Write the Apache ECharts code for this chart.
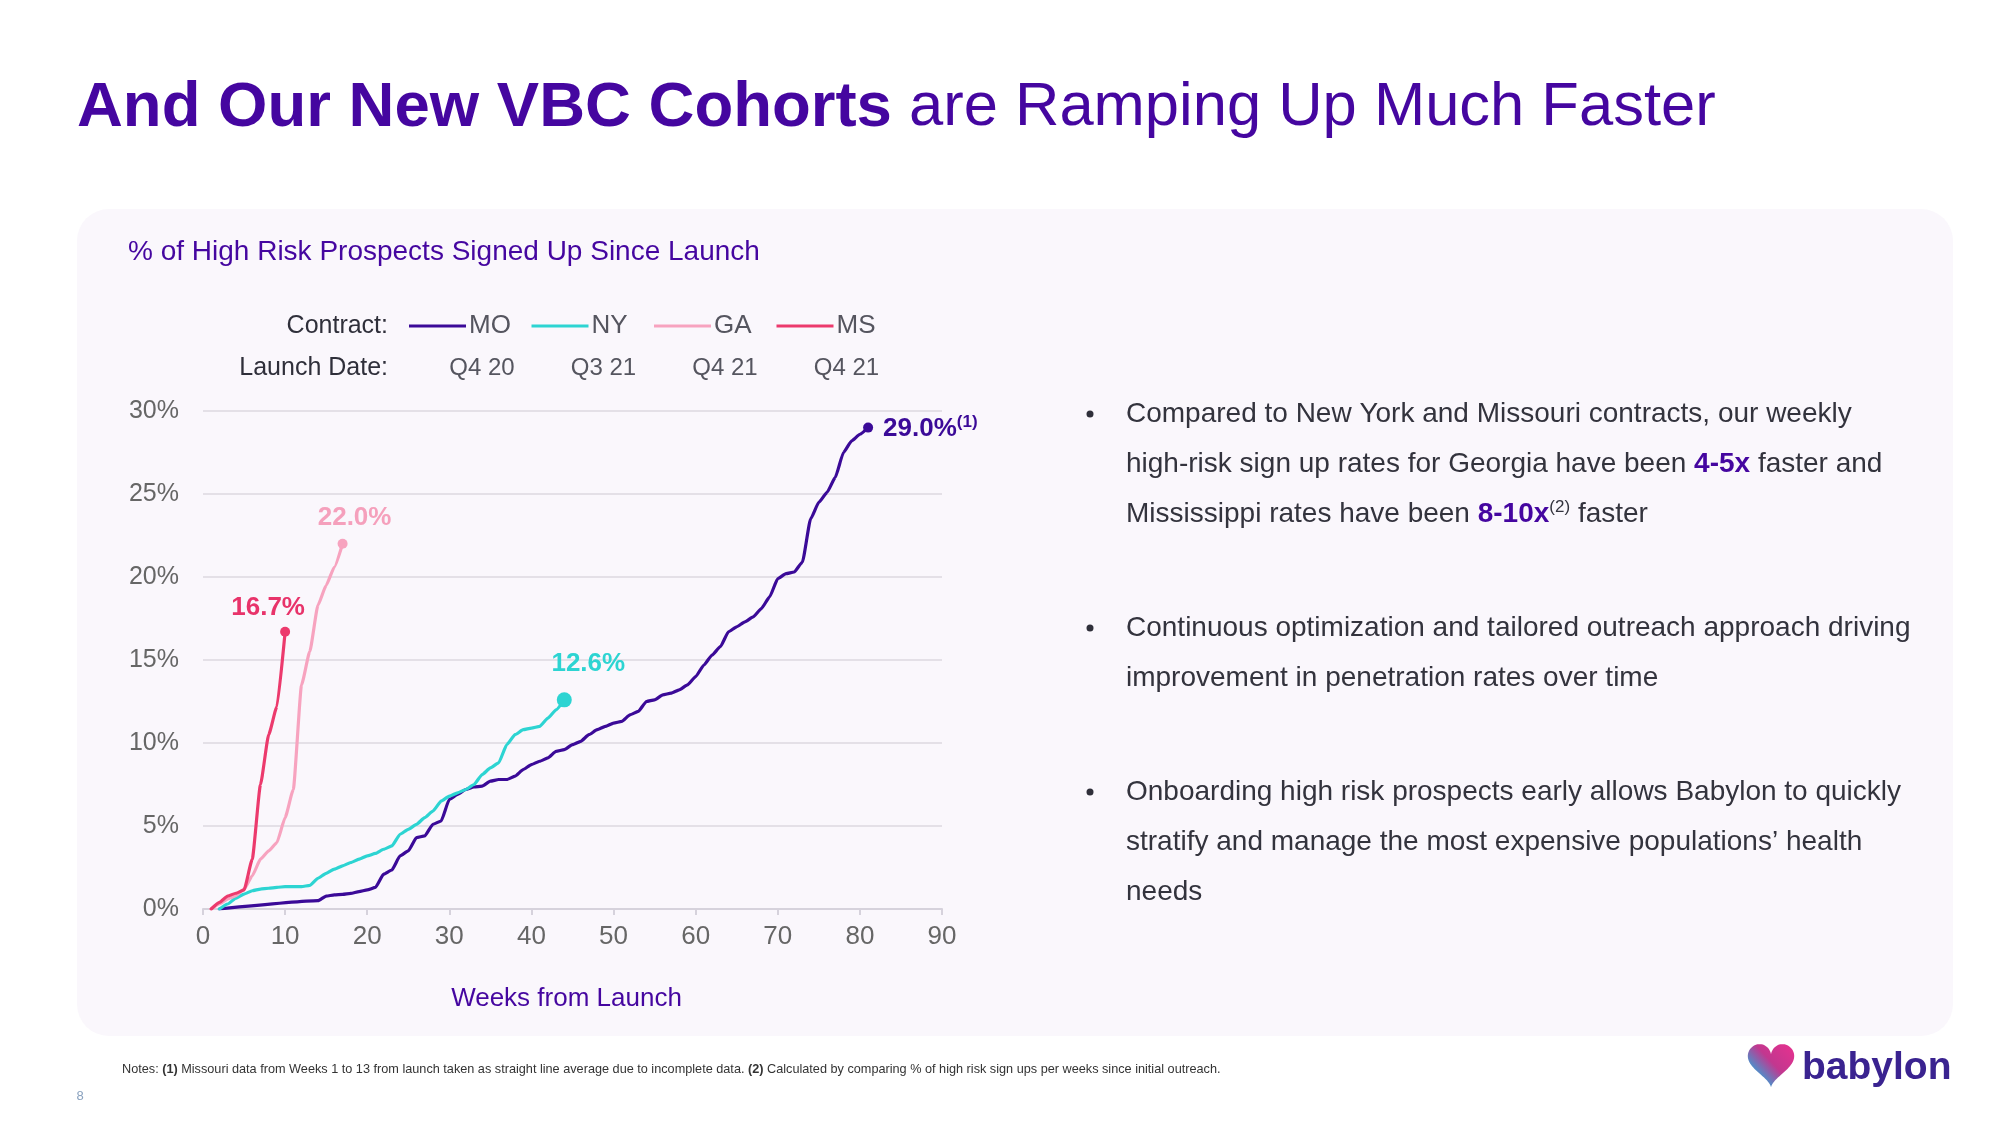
<!DOCTYPE html>
<html><head><meta charset="utf-8">
<script src="https://cdn.jsdelivr.net/npm/echarts@6/dist/echarts.min.js"></script>
<style>html,body{margin:0;padding:0;background:#fff;}#c{width:2000px;height:1125px;}</style>
</head><body><div id="c"></div>
<script>
// ---------- data ----------
const seriesNames = ['MO', 'NY', 'GA', 'MS'];
const launchDates = ['Q4 20', 'Q3 21', 'Q4 21', 'Q4 21'];
const xTicks = [0, 10, 20, 30, 40, 50, 60, 70, 80, 90];
const yTicks = [0, 5, 10, 15, 20, 25, 30];

const weeksMO = [2,14,15,16,17,18,19,20,21,22,23,24,25,26,27,28,29,30,31,32,33,34,35,36,37,38,39,40,41,42,43,44,45,46,47,48,49,50,51,52,53,54,55,56,57,58,59,60,61,62,63,64,65,66,67,68,69,70,71,72,73,74,75,76,77,78,79,80,81];
const valuesMO = [0,0.5,0.78,0.85,0.88,0.94,1.05,1.15,1.3,2.1,2.35,3.2,3.5,4.3,4.4,5.1,5.3,6.6,6.9,7.2,7.35,7.4,7.7,7.8,7.8,8.0,8.4,8.7,8.9,9.1,9.5,9.6,9.9,10.1,10.5,10.8,11.0,11.2,11.3,11.7,11.9,12.5,12.6,12.9,13.0,13.2,13.5,14.0,14.7,15.3,15.8,16.7,17.0,17.3,17.6,18.1,18.8,19.9,20.2,20.3,20.9,23.5,24.5,25.1,26.0,27.5,28.2,28.6,29.0];

const weeksNY = [2,3,4,5,6,7,8,9,10,11,12,13,14,15,16,17,18,19,20,21,22,23,24,25,26,27,28,29,30,31,32,33,34,35,36,37,38,39,40,41,42,43,44];
const valuesNY = [0,0.3,0.65,0.9,1.1,1.2,1.25,1.3,1.35,1.35,1.35,1.42,1.85,2.15,2.4,2.6,2.8,3.0,3.2,3.35,3.6,3.8,4.5,4.8,5.1,5.5,5.9,6.5,6.8,7.0,7.2,7.5,8.1,8.5,8.8,9.9,10.5,10.8,10.9,11.0,11.5,12.0,12.6];

const weeksGA = [1,2,3,4,5,6,7,8,9,10,11,12,13,14,15,16,17];
const valuesGA = [0,0.3,0.6,0.8,1.2,2.0,3.0,3.5,4.0,5.5,7.2,13.5,15.5,18.3,19.5,20.6,22.0];

const weeksMS = [1,2,3,4,5,6,7,8,9,10];
const valuesMS = [0,0.4,0.78,0.95,1.15,3.0,7.5,10.5,12.2,16.7];

const endNotes = ['(1)', '', '', ''];

// ---------- styles ----------
const FONT = "'Liberation Sans', Arial, Helvetica, sans-serif";
const PURPLE = '#4506a0';
const colors = ['#3b0a98', '#2dd4d2', '#f7a3bf', '#ec3a6d'];
const labelColors = ['#3b0a98', '#2dd4d2', '#f5a0bc', '#e8336a'];
const symbolSizes = [10, 15, 10, 10];
const labelLayouts = [
  {position: 'right', distance: 10, offset: [0, 1]},
  {position: 'top', distance: 16, offset: [24, 0]},
  {position: 'top', distance: 8, offset: [12, 0]},
  {position: 'top', distance: 6, offset: [-17, 0]}
];

const weeks = [weeksMO, weeksNY, weeksGA, weeksMS];
const values = [valuesMO, valuesNY, valuesGA, valuesMS];

const series = seriesNames.map((name, i) => {
  const w = weeks[i], v = values[i];
  const last = w.length - 1;
  const data = w.map((wk, j) => {
    if (j !== last) return [wk, v[j]];
    const txt = v[j].toFixed(1) + '%';
    return {
      value: [wk, v[j]],
      label: Object.assign({
        show: true,
        formatter: '{a|' + txt + '}' + (endNotes[i] ? '{s|' + endNotes[i] + '}' : ''),
        rich: {
          a: {fontSize: 26, fontWeight: 'bold', color: labelColors[i], fontFamily: FONT},
          s: {fontSize: 17, fontWeight: 'bold', color: labelColors[i], fontFamily: FONT, padding: [0, 0, 12, 0]}
        }
      }, labelLayouts[i])
    };
  });
  return {
    name: name,
    type: 'line',
    data: data,
    smooth: 0.15,
    smoothMonotone: 'x',
    symbol: 'circle',
    showSymbol: true,
    showAllSymbol: true,
    symbolSize: (val, params) => params.dataIndex === last ? symbolSizes[i] : 0,
    itemStyle: {color: colors[i]},
    lineStyle: {color: colors[i], width: 3.2, cap: 'round', join: 'round'},
    emphasis: {disabled: true},
    z: 2 + i
  };
});

// ---------- graphic (layout / text) ----------
const graphic = [];
graphic.push({type: 'rect', z: -10, shape: {x: 77, y: 209, width: 1876, height: 827, r: 32}, style: {fill: '#faf7fc'}});
graphic.push({type: 'text', x: 77, y: 108, style: {
  text: '{b|And Our New VBC Cohorts}{r| are Ramping Up Much Faster}',
  verticalAlign: 'middle', align: 'left',
  rich: {
    b: {fontSize: 63.5, fontWeight: 'bold', fontFamily: FONT, fill: PURPLE},
    r: {fontSize: 61.5, fontWeight: 'normal', fontFamily: FONT, fill: PURPLE}
  }
}});
graphic.push({type: 'text', x: 128, y: 252, style: {text: '% of High Risk Prospects Signed Up Since Launch', fontSize: 28, fontFamily: FONT, fill: PURPLE, verticalAlign: 'middle'}});

// legend
graphic.push({type: 'text', x: 388, y: 326, style: {text: 'Contract:', fontSize: 25, fontFamily: FONT, fill: '#2f2f3a', align: 'right', verticalAlign: 'middle'}});
graphic.push({type: 'text', x: 388, y: 368, style: {text: 'Launch Date:', fontSize: 25, fontFamily: FONT, fill: '#2f2f3a', align: 'right', verticalAlign: 'middle'}});
seriesNames.forEach((n, i) => {
  const x0 = 409 + i * 122.5;
  graphic.push({type: 'line', shape: {x1: x0, y1: 326, x2: x0 + 57, y2: 326}, style: {stroke: colors[i], lineWidth: 3}});
  graphic.push({type: 'text', x: x0 + 60, y: 326, style: {text: n, fontSize: 26, fontFamily: FONT, fill: '#55555f', verticalAlign: 'middle'}});
  graphic.push({type: 'text', x: 482 + i * 121.5, y: 368, style: {text: launchDates[i], fontSize: 24, fontFamily: FONT, fill: '#55555f', align: 'center', verticalAlign: 'middle'}});
});

// bullets
const bulletTexts = [
  'Compared to New York and Missouri contracts, our weekly\nhigh-risk sign up rates for Georgia have been {b|4-5x} faster and\nMississippi rates have been {b|8-10x}{s|(2)} faster',
  'Continuous optimization and tailored outreach approach driving\nimprovement in penetration rates over time',
  'Onboarding high risk prospects early allows Babylon to quickly\nstratify and manage the most expensive populations\u2019 health\nneeds'
];
const bulletTops = [414, 628, 792];
bulletTexts.forEach((t, i) => {
  graphic.push({type: 'circle', shape: {cx: 1090, cy: bulletTops[i], r: 3.5}, style: {fill: '#2f2f3a'}});
  graphic.push({type: 'text', x: 1126, y: bulletTops[i] - 25, style: {
    text: t, fontSize: 28, lineHeight: 50, fontFamily: FONT, fill: '#33333d', verticalAlign: 'top',
    rich: {
      b: {fontSize: 28, lineHeight: 50, fontWeight: 'bold', fontFamily: FONT, fill: PURPLE},
      s: {fontSize: 17, lineHeight: 50, fontFamily: FONT, fill: '#33333d', padding: [0, 0, 14, 0]}
    }
  }});
});

// notes
graphic.push({type: 'text', x: 122, y: 1069, style: {
  text: 'Notes: {b|(1)} Missouri data from Weeks 1 to 13 from launch taken as straight line average due to incomplete data. {b|(2)} Calculated by comparing % of high risk sign ups per weeks since initial outreach.',
  fontSize: 12.7, fontFamily: FONT, fill: '#333', verticalAlign: 'middle',
  rich: {b: {fontSize: 12.7, fontWeight: 'bold', fontFamily: FONT, fill: '#333'}}
}});
graphic.push({type: 'text', x: 80, y: 1096, style: {text: '8', fontSize: 13, fontFamily: FONT, fill: '#8aa2bf', align: 'center', verticalAlign: 'middle'}});

// logo heart (parametric outline)
const heartPts = [];
for (let k = 0; k < 120; k++) {
  const t = k / 120 * Math.PI * 2;
  const hx = 16 * Math.pow(Math.sin(t), 3);
  const hy = 13 * Math.cos(t) - 5 * Math.cos(2 * t) - 2 * Math.cos(3 * t) - Math.cos(4 * t);
  heartPts.push([1771 + hx * 1.45, 1062 - hy * 1.5]);
}
graphic.push({type: 'polygon', shape: {points: heartPts}, style: {fill: new echarts.graphic.LinearGradient(1, 0, 0, 1, [
  {offset: 0, color: '#e8318f'}, {offset: 0.45, color: '#c2378f'}, {offset: 0.7, color: '#5a86c4'}, {offset: 1, color: '#22c3d9'}
])}});
graphic.push({type: 'text', x: 1802, y: 1068, style: {text: 'babylon', fontSize: 39, fontWeight: 'bold', fontFamily: FONT, fill: '#3a2390', verticalAlign: 'middle'}});

// ---------- chart ----------
const chart = echarts.init(document.getElementById('c'), null, {renderer: 'canvas', width: 2000, height: 1125});
chart.setOption({
  animation: false,
  backgroundColor: '#ffffff',
  grid: {left: 203, top: 411, width: 739, height: 498, containLabel: false},
  xAxis: {
    type: 'value', min: xTicks[0], max: xTicks[xTicks.length - 1], interval: xTicks[1] - xTicks[0],
    name: 'Weeks from Launch', nameLocation: 'middle', nameGap: 77,
    nameTextStyle: {fontSize: 26, color: PURPLE, fontFamily: FONT, padding: [0, 12, 0, 0]},
    axisLine: {show: true, lineStyle: {color: '#d6d2dc', width: 2}},
    axisTick: {show: true, length: 6, lineStyle: {color: '#d6d2dc', width: 2}},
    axisLabel: {fontSize: 26, color: '#666', fontFamily: FONT, margin: 15},
    splitLine: {show: false}
  },
  yAxis: {
    type: 'value', min: yTicks[0], max: yTicks[yTicks.length - 1], interval: yTicks[1] - yTicks[0],
    axisLine: {show: false}, axisTick: {show: false},
    axisLabel: {fontSize: 25, color: '#666', fontFamily: FONT, margin: 24, formatter: '{value}%'},
    splitLine: {show: true, lineStyle: {color: '#dcd8e0', width: 1.5}}
  },
  series: series,
  graphic: graphic
});
</script></body></html>
